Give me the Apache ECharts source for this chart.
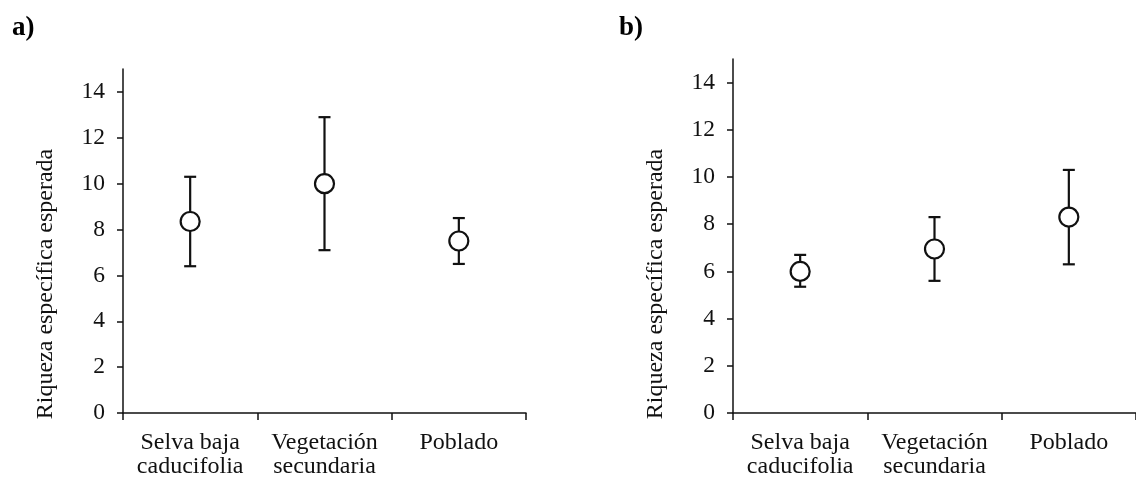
<!DOCTYPE html>
<html>
<head>
<meta charset="utf-8">
<style>
  html, body { margin: 0; padding: 0; background: #fff; }
  #chart { width: 1136px; height: 479px; }
</style>
<script src="https://cdn.jsdelivr.net/npm/echarts@6/dist/echarts.min.js"></script>
</head>
<body>
<div id="chart"></div>
<script>
// Habitat categories (shared by both panels)
const categories = ['Selva baja\ncaducifolia', 'Vegetación\nsecundaria', 'Poblado'];
const yTicks = [0, 2, 4, 6, 8, 10, 12, 14];
const yMax = 15;

// Panel a: expected species richness with confidence limits
const aMean = [8.35, 10.0, 7.5];
const aLow = [6.4, 7.1, 6.5];
const aHigh = [10.3, 12.9, 8.5];

// Panel b
const bMean = [6.0, 6.95, 8.3];
const bLow = [5.35, 5.6, 6.3];
const bHigh = [6.7, 8.3, 10.3];

const FONT = '"Liberation Serif", "Times New Roman", serif';
const INK = '#111';

function pointData(mean) {
  return mean.map((v, i) => [i, v]);
}
function barData(low, high) {
  return low.map((v, i) => [i, v, high[i]]);
}

// Vertical error bar with end caps
function renderErrorBar(params, api) {
  const x = api.value(0);
  const lo = api.coord([x, api.value(1)]);
  const hi = api.coord([x, api.value(2)]);
  const half = 6;
  const style = { stroke: INK, lineWidth: 2.2, fill: null };
  return {
    type: 'group',
    children: [
      { type: 'line', shape: { x1: lo[0], y1: lo[1], x2: hi[0], y2: hi[1] }, style: style },
      { type: 'line', shape: { x1: hi[0] - half, y1: hi[1], x2: hi[0] + half, y2: hi[1] }, style: style },
      { type: 'line', shape: { x1: lo[0] - half, y1: lo[1], x2: lo[0] + half, y2: lo[1] }, style: style }
    ]
  };
}

function xAxisFor(gridIndex) {
  return {
    type: 'category',
    gridIndex: gridIndex,
    data: categories,
    boundaryGap: true,
    axisLine: { lineStyle: { color: INK, width: 1.5 } },
    axisTick: { show: true, length: 7, lineStyle: { color: INK, width: 1.5 } },
    axisLabel: {
      color: INK, fontFamily: FONT, fontSize: 24, lineHeight: 24,
      margin: 18, verticalAlign: 'top', interval: 0
    },
    splitLine: { show: false }
  };
}

function yAxisFor(gridIndex) {
  return {
    type: 'value',
    gridIndex: gridIndex,
    min: 0,
    max: yMax,
    interval: 2,
    axisLine: { show: true, lineStyle: { color: INK, width: 1.5 } },
    axisTick: { show: true, length: 6, customValues: yTicks, lineStyle: { color: INK, width: 1.5 } },
    axisLabel: {
      color: INK, fontFamily: FONT, fontSize: 23.5, margin: 18, customValues: yTicks
    },
    splitLine: { show: false }
  };
}

function seriesFor(idx, mean, low, high) {
  return [
    {
      type: 'custom',
      xAxisIndex: idx, yAxisIndex: idx,
      renderItem: renderErrorBar,
      encode: { x: 0, y: [1, 2] },
      data: barData(low, high),
      z: 2,
      silent: true
    },
    {
      type: 'scatter',
      xAxisIndex: idx, yAxisIndex: idx,
      symbol: 'circle',
      symbolSize: 19,
      itemStyle: { color: '#fff', borderColor: INK, borderWidth: 2.2, opacity: 1 },
      data: pointData(mean),
      z: 5,
      silent: true
    }
  ];
}

const chart = echarts.init(document.getElementById('chart'), null, { renderer: 'canvas' });
chart.setOption({
  animation: false,
  backgroundColor: '#fff',
  grid: [
    { left: 123, top: 69, width: 403, height: 345 },
    { left: 733, top: 59, width: 414, height: 355 }
  ],
  xAxis: [xAxisFor(0), xAxisFor(1)],
  yAxis: [yAxisFor(0), yAxisFor(1)],
  graphic: [
    { type: 'text', x: 12, y: 15, style: { text: 'a)', font: 'bold 27px ' + FONT, fill: '#000' } },
    { type: 'text', x: 619, y: 15, style: { text: 'b)', font: 'bold 27px ' + FONT, fill: '#000' } },
    {
      type: 'text', x: 46, y: 284, rotation: Math.PI / 2,
      style: { text: 'Riqueza específica esperada', font: '24px ' + FONT, fill: INK, align: 'center', verticalAlign: 'middle' }
    },
    {
      type: 'text', x: 656, y: 284, rotation: Math.PI / 2,
      style: { text: 'Riqueza específica esperada', font: '24px ' + FONT, fill: INK, align: 'center', verticalAlign: 'middle' }
    }
  ],
  series: [].concat(
    seriesFor(0, aMean, aLow, aHigh),
    seriesFor(1, bMean, bLow, bHigh)
  )
});
</script>
</body>
</html>
